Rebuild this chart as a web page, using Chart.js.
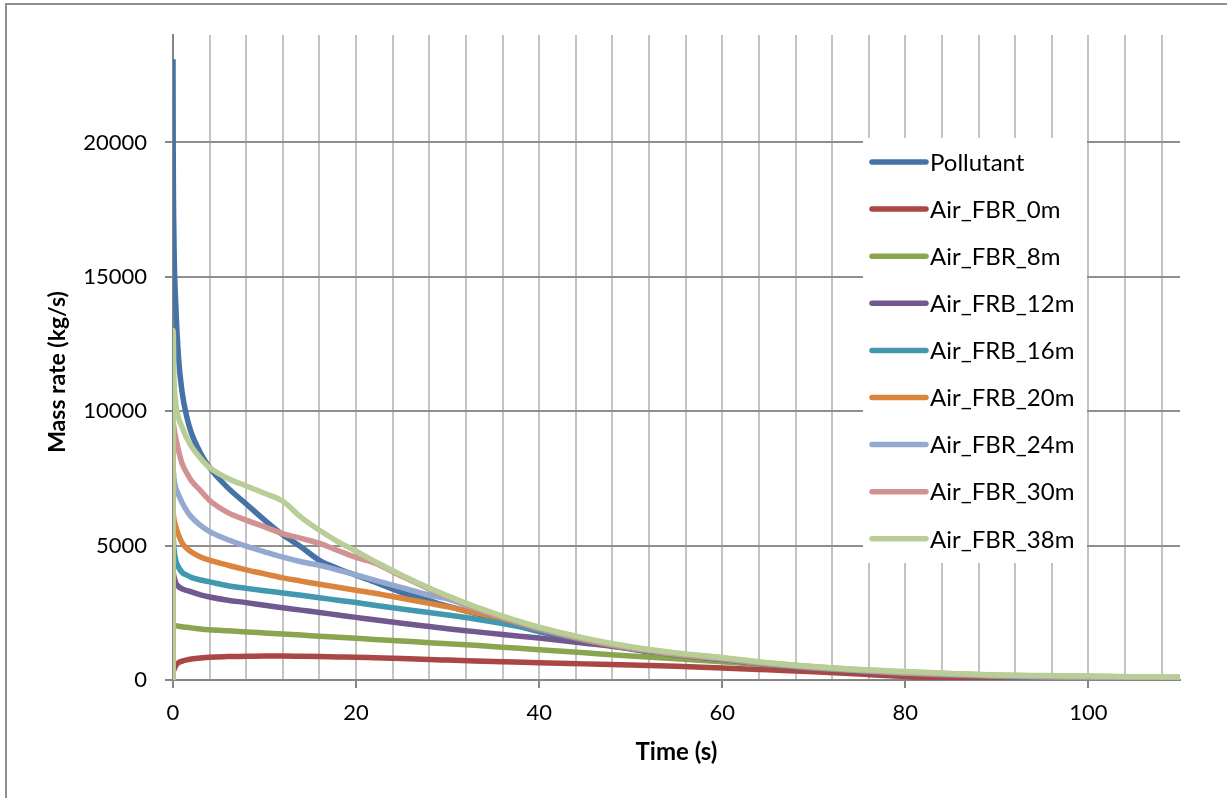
<!DOCTYPE html>
<html>
<head>
<meta charset="utf-8">
<title>Mass rate</title>
<script src="https://cdn.jsdelivr.net/npm/chart.js@4.4.1/dist/chart.umd.min.js"></script>
<style>
  html, body { margin: 0; padding: 0; background: #fff; }
  #wrap { width: 1227px; height: 798px; }
</style>
</head>
<body>
<div id="wrap"><canvas id="massChart" width="1227" height="798"></canvas></div>
<script>
// Sample times (s), shared by every series
const timeS = [0, 0.02, 0.1, 0.3, 0.6, 1, 1.5, 2, 3, 4, 6, 8, 10, 12, 14, 16, 18, 20, 22, 25,
  28, 30, 33, 36, 40, 45, 50, 55, 60, 65, 70, 75, 80, 85, 90, 95, 100, 105, 110];

// Mass rate (kg/s) per series
const pollutant = [23100, 20000, 16500, 14000, 12000, 10700, 9800, 9200, 8450, 7900, 7150, 6550, 5950, 5400, 4950, 4450, 4150, 3900, 3650, 3250,
  2950, 2750, 2480, 2180, 1800, 1450, 1150, 900, 710, 560, 430, 330, 240, 180, 130, 95, 70, 50, 35];
const airFbr0 = [0, 250, 380, 540, 640, 700, 750, 780, 820, 850, 870, 880, 890, 890, 880, 870, 860, 850, 830, 800,
  760, 740, 710, 680, 640, 600, 560, 510, 450, 380, 310, 220, 130, 60, 25, 10, 5, 0, 0];
const airFbr8 = [0, 2080, 2050, 2020, 2000, 1980, 1960, 1940, 1900, 1870, 1830, 1790, 1750, 1710, 1670, 1630, 1590, 1550, 1510, 1450,
  1390, 1350, 1290, 1220, 1130, 1010, 890, 790, 680, 570, 460, 360, 270, 200, 140, 100, 70, 50, 35];
const airFrb12 = [0, 4000, 3850, 3620, 3480, 3390, 3330, 3280, 3170, 3090, 2970, 2880, 2780, 2690, 2600, 2510, 2420, 2330, 2240, 2110,
  1990, 1910, 1800, 1690, 1560, 1370, 1170, 930, 760, 580, 440, 330, 240, 180, 130, 100, 80, 60, 45];
const airFrb16 = [0, 5300, 4900, 4450, 4200, 4000, 3900, 3820, 3720, 3650, 3510, 3410, 3320, 3240, 3150, 3060, 2970, 2880, 2780, 2640,
  2510, 2420, 2270, 2100, 1840, 1480, 1170, 940, 770, 590, 450, 340, 250, 190, 140, 110, 85, 70, 55];
const airFrb20 = [0, 6200, 6000, 5700, 5400, 5100, 4900, 4760, 4580, 4460, 4270, 4100, 3950, 3800, 3680, 3560, 3450, 3340, 3230, 3040,
  2850, 2720, 2500, 2290, 1900, 1490, 1180, 950, 780, 600, 460, 350, 260, 200, 150, 120, 95, 80, 65];
const airFbr24 = [0, 7800, 7500, 7150, 6900, 6600, 6300, 6070, 5750, 5520, 5220, 4980, 4770, 4570, 4400, 4270, 4090, 3910, 3720, 3440,
  3160, 3020, 2660, 2330, 1920, 1510, 1200, 970, 800, 610, 470, 360, 270, 210, 160, 130, 110, 90, 75];
const airFbr30 = [0, 9600, 9400, 9000, 8550, 8050, 7700, 7420, 7050, 6680, 6230, 5950, 5700, 5450, 5270, 5080, 4820, 4560, 4360, 3860,
  3380, 3090, 2690, 2350, 1940, 1530, 1220, 990, 820, 630, 490, 380, 290, 230, 180, 155, 135, 115, 100];
const airFbr38 = [0, 13000, 11300, 10300, 9750, 9400, 9000, 8700, 8250, 7900, 7500, 7220, 6950, 6650, 6050, 5570, 5150, 4790, 4420, 3900,
  3420, 3130, 2730, 2380, 1970, 1560, 1240, 1010, 840, 640, 500, 390, 320, 240, 190, 165, 145, 125, 110];

const seriesNames = ['Pollutant', 'Air_FBR_0m', 'Air_FBR_8m', 'Air_FRB_12m', 'Air_FRB_16m',
  'Air_FRB_20m', 'Air_FBR_24m', 'Air_FBR_30m', 'Air_FBR_38m'];
const seriesValues = [pollutant, airFbr0, airFbr8, airFrb12, airFrb16, airFrb20, airFbr24, airFbr30, airFbr38];
const seriesColors = ['#4572A7', '#AA4643', '#89A54E', '#71588F', '#4198AF',
  '#DB843D', '#93A9CF', '#D19392', '#B9CD96'];

// Axis ticks
const xLabelValues = [0, 20, 40, 60, 80, 100];
const yTickValues = [0, 5000, 10000, 15000, 20000];

const FONT = 'Lato, "Open Sans", sans-serif';

// White page with the thin frame on top and left
const framePlugin = {
  id: 'frame',
  beforeDraw(chart) {
    const ctx = chart.ctx;
    ctx.save();
    ctx.fillStyle = '#fff';
    ctx.fillRect(0, 0, chart.width, chart.height);
    ctx.strokeStyle = '#8e8e8e';
    ctx.lineWidth = 2;
    ctx.beginPath();
    ctx.moveTo(6, chart.height);
    ctx.lineTo(6, 4);
    ctx.lineTo(chart.width, 4);
    ctx.stroke();
    ctx.restore();
  }
};

// Axis titles and the boxed legend sitting inside the plot
const overlayPlugin = {
  id: 'overlay',
  afterDraw(chart) {
    const ctx = chart.ctx;
    const area = chart.chartArea;
    ctx.save();
    ctx.fillStyle = '#000';
    ctx.textAlign = 'center';
    ctx.textBaseline = 'middle';
    ctx.font = 'bold 24px ' + FONT;
    ctx.fillText('Time (s)', (area.left + area.right) / 2, 752);
    ctx.font = 'bold 23px ' + FONT;
    ctx.save();
    ctx.translate(58, 372);
    ctx.rotate(-Math.PI / 2);
    ctx.fillText('Mass rate (kg/s)', 0, 0);
    ctx.restore();

    // legend box
    const box = { x: 863, y: 138, w: 224, h: 425 };
    ctx.fillStyle = '#fff';
    ctx.fillRect(box.x, box.y, box.w, box.h);
    ctx.font = '24px ' + FONT;
    ctx.textAlign = 'left';
    chart.data.datasets.forEach((ds, i) => {
      const cy = 162 + i * 47.1;
      ctx.strokeStyle = ds.borderColor;
      ctx.lineWidth = 5.5;
      ctx.lineCap = 'round';
      ctx.beginPath();
      ctx.moveTo(872, cy);
      ctx.lineTo(926, cy);
      ctx.stroke();
      ctx.fillStyle = '#000';
      ctx.fillText(ds.label, 930, cy + 1);
    });
    ctx.restore();
  }
};

const datasets = seriesNames.map((name, i) => ({
  label: name,
  data: timeS.map((t, k) => ({ x: t, y: seriesValues[i][k] })),
  borderColor: seriesColors[i],
  backgroundColor: seriesColors[i],
  borderWidth: 5.5,
  borderJoinStyle: 'round',
  pointRadius: 0,
  cubicInterpolationMode: 'monotone',
  showLine: true,
  fill: false,
  order: seriesNames.length - i   // later series painted on top
}));

new Chart(document.getElementById('massChart'), {
  type: 'scatter',
  data: { datasets: datasets },
  plugins: [framePlugin, overlayPlugin],
  options: {
    responsive: false,
    animation: false,
    devicePixelRatio: 1,
    layout: { padding: { top: 35, right: 47, left: 0, bottom: 0 } },
    plugins: {
      legend: { display: false },
      tooltip: { enabled: false }
    },
    scales: {
      x: {
        type: 'linear',
        min: 0,
        max: 110,
        afterFit(scale) { scale.height = 118; },
        ticks: {
          stepSize: 4,
          includeBounds: false,
          autoSkip: false,
          maxRotation: 0,
          padding: 12,
          color: '#000',
          font: { family: FONT, size: 22 },
          callback: v => (xLabelValues.includes(v) ? String(v) : '')
        },
        grid: {
          lineWidth: 2,
          color: c => (c.tick && c.tick.value === 0 ? 'rgba(0,0,0,0)' : '#c3c3c3'),
          tickColor: c => (c.tick && xLabelValues.includes(c.tick.value) ? '#868686' : 'rgba(0,0,0,0)'),
          tickLength: 8,
          tickWidth: 2
        },
        border: { color: '#868686', width: 2 }
      },
      y: {
        type: 'linear',
        min: 0,
        max: 24000,
        afterFit(scale) { scale.width = 173; },
        afterBuildTicks(scale) { scale.ticks = yTickValues.map(v => ({ value: v })); },
        ticks: {
          padding: 18,
          color: '#000',
          font: { family: FONT, size: 22 },
          callback: v => String(v)
        },
        grid: {
          lineWidth: 2,
          color: c => (c.tick && c.tick.value === 0 ? 'rgba(0,0,0,0)' : '#8e8e8e'),
          tickColor: '#868686',
          tickLength: 8,
          tickWidth: 2
        },
        border: { color: '#868686', width: 2 }
      }
    }
  }
});
</script>
</body>
</html>
